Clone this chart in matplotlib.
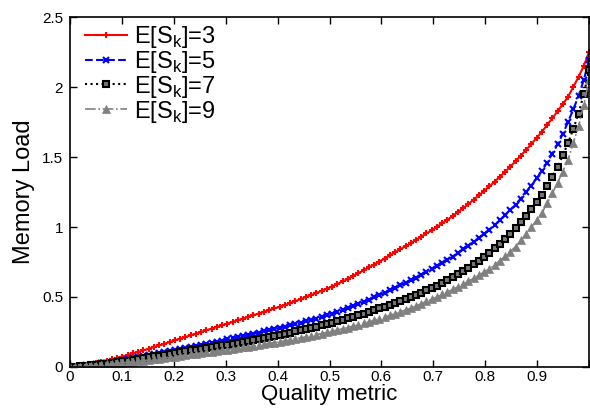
import matplotlib
matplotlib.use("Agg")
import matplotlib.pyplot as plt

plt.rcParams['font.family'] = ['Liberation Sans', 'DejaVu Sans']

quality = [i / 99 for i in range(100)]

load_es3 = [0.000, 0.005, 0.011, 0.017, 0.023, 0.030, 0.038, 0.046, 0.055, 0.065,
            0.075, 0.086, 0.097, 0.108, 0.119, 0.130, 0.142, 0.154, 0.166, 0.178,
            0.190, 0.202, 0.214, 0.226, 0.238, 0.250, 0.262, 0.274, 0.286, 0.298,
            0.310, 0.322, 0.334, 0.346, 0.358, 0.370, 0.382, 0.394, 0.406, 0.418,
            0.430, 0.443, 0.457, 0.471, 0.485, 0.500, 0.514, 0.529, 0.544, 0.559,
            0.575, 0.593, 0.611, 0.630, 0.650, 0.670, 0.690, 0.711, 0.732, 0.753,
            0.775, 0.797, 0.819, 0.841, 0.863, 0.885, 0.908, 0.931, 0.954, 0.977,
            1.000, 1.026, 1.052, 1.079, 1.106, 1.135, 1.165, 1.195, 1.226, 1.258,
            1.290, 1.324, 1.359, 1.395, 1.432, 1.470, 1.510, 1.551, 1.593, 1.636,
            1.680, 1.728, 1.777, 1.827, 1.878, 1.930, 2.000, 2.072, 2.150, 2.250]

load_es5 = [0.000, 0.003, 0.007, 0.011, 0.015, 0.020, 0.026, 0.032, 0.038, 0.044,
            0.050, 0.057, 0.064, 0.071, 0.078, 0.085, 0.092, 0.099, 0.106, 0.113,
            0.120, 0.127, 0.135, 0.142, 0.150, 0.158, 0.166, 0.174, 0.181, 0.189,
            0.197, 0.205, 0.213, 0.221, 0.230, 0.238, 0.246, 0.255, 0.263, 0.272,
            0.280, 0.289, 0.298, 0.307, 0.316, 0.326, 0.336, 0.346, 0.357, 0.368,
            0.380, 0.393, 0.406, 0.420, 0.435, 0.450, 0.465, 0.481, 0.497, 0.513,
            0.530, 0.547, 0.565, 0.583, 0.601, 0.620, 0.639, 0.659, 0.679, 0.699,
            0.720, 0.742, 0.765, 0.789, 0.814, 0.840, 0.867, 0.894, 0.922, 0.951,
            0.980, 1.013, 1.047, 1.083, 1.121, 1.160, 1.203, 1.248, 1.296, 1.347,
            1.400, 1.460, 1.523, 1.590, 1.665, 1.750, 1.840, 1.935, 2.050, 2.190]

load_es7 = [0.000, 0.002, 0.005, 0.008, 0.011, 0.015, 0.020, 0.025, 0.030, 0.035,
            0.040, 0.046, 0.052, 0.058, 0.064, 0.070, 0.076, 0.082, 0.088, 0.094,
            0.100, 0.106, 0.112, 0.118, 0.124, 0.130, 0.136, 0.142, 0.148, 0.154,
            0.160, 0.167, 0.174, 0.181, 0.188, 0.195, 0.202, 0.209, 0.216, 0.223,
            0.230, 0.238, 0.246, 0.254, 0.262, 0.270, 0.279, 0.288, 0.297, 0.306,
            0.315, 0.326, 0.337, 0.348, 0.359, 0.370, 0.382, 0.394, 0.406, 0.418,
            0.430, 0.443, 0.457, 0.471, 0.485, 0.500, 0.516, 0.532, 0.548, 0.564,
            0.580, 0.599, 0.619, 0.640, 0.662, 0.685, 0.709, 0.734, 0.760, 0.787,
            0.815, 0.847, 0.880, 0.915, 0.952, 0.990, 1.033, 1.078, 1.127, 1.178,
            1.230, 1.293, 1.359, 1.430, 1.511, 1.600, 1.700, 1.810, 1.950, 2.120]

load_es9 = [0.000, 0.001, 0.003, 0.005, 0.007, 0.010, 0.014, 0.018, 0.022, 0.026,
            0.030, 0.034, 0.038, 0.042, 0.046, 0.050, 0.055, 0.060, 0.065, 0.070,
            0.075, 0.080, 0.085, 0.090, 0.095, 0.100, 0.105, 0.110, 0.115, 0.120,
            0.125, 0.130, 0.135, 0.140, 0.145, 0.150, 0.156, 0.162, 0.168, 0.174,
            0.180, 0.187, 0.194, 0.201, 0.208, 0.215, 0.223, 0.231, 0.239, 0.247,
            0.255, 0.264, 0.273, 0.282, 0.291, 0.300, 0.311, 0.322, 0.333, 0.344,
            0.355, 0.368, 0.381, 0.394, 0.407, 0.420, 0.436, 0.452, 0.468, 0.484,
            0.500, 0.518, 0.536, 0.554, 0.572, 0.590, 0.612, 0.634, 0.656, 0.678,
            0.700, 0.730, 0.760, 0.792, 0.825, 0.860, 0.904, 0.950, 0.998, 1.048,
            1.100, 1.168, 1.240, 1.316, 1.396, 1.480, 1.600, 1.720, 1.870, 2.050]

labels = ["E[S$_\\mathregular{k}$]=3", "E[S$_\\mathregular{k}$]=5",
          "E[S$_\\mathregular{k}$]=7", "E[S$_\\mathregular{k}$]=9"]
x_ticks = [0, 0.1, 0.2, 0.3, 0.4, 0.5, 0.6, 0.7, 0.8, 0.9, 1.0]
x_tick_labels = ["0", "0.1", "0.2", "0.3", "0.4", "0.5", "0.6", "0.7", "0.8", "0.9", ""]
y_ticks = [0, 0.5, 1, 1.5, 2, 2.5]
y_tick_labels = ["0", "0.5", "1", "1.5", "2", "2.5"]

fig = plt.figure(figsize=(5.9, 4.08), dpi=100)
ax = fig.add_axes([70 / 590, 41 / 408, 519 / 590, 350 / 408])

ax.plot(quality, load_es3, color='red', linestyle='-', linewidth=1.5,
        marker='+', markersize=4, markeredgewidth=1.5, label=labels[0])
ax.plot(quality, load_es5, color='blue', linestyle='--', linewidth=1.5,
        marker='x', markersize=4.5, markeredgewidth=1.5, label=labels[1])
ax.plot(quality, load_es7, color='black', linestyle=':', linewidth=1.5,
        marker='s', markersize=5, markeredgewidth=1.5, markerfacecolor='#777777',
        markeredgecolor='black', label=labels[2])
ax.plot(quality, load_es9, color='#808080', linestyle='-.', linewidth=1.2,
        marker='^', markersize=5.5, markeredgewidth=0.5, markerfacecolor='#808080',
        markeredgecolor='#808080', label=labels[3])

ax.set_xlim(0, 1.0)
ax.set_ylim(0, 2.5)
ax.set_xticks(x_ticks)
ax.set_xticklabels(x_tick_labels)
ax.set_yticks(y_ticks)
ax.set_yticklabels(y_tick_labels)
ax.tick_params(direction='in', length=5, width=1, top=True, right=True,
               labelsize=11, pad=5)
ax.tick_params(axis='x', pad=2.5)
for s in ax.spines.values():
    s.set_linewidth(1.2)

ax.set_xlabel("Quality metric", fontsize=16, labelpad=0)
ax.set_ylabel("Memory Load", fontsize=17, labelpad=5)

leg = ax.legend(loc='upper left', fontsize=17, frameon=False, handlelength=1.8,
                handletextpad=0.3, labelspacing=-0.05, borderaxespad=0.1,
                borderpad=0.2, bbox_to_anchor=(0.015, 1.0))

fig.savefig("out.png", dpi=100)
